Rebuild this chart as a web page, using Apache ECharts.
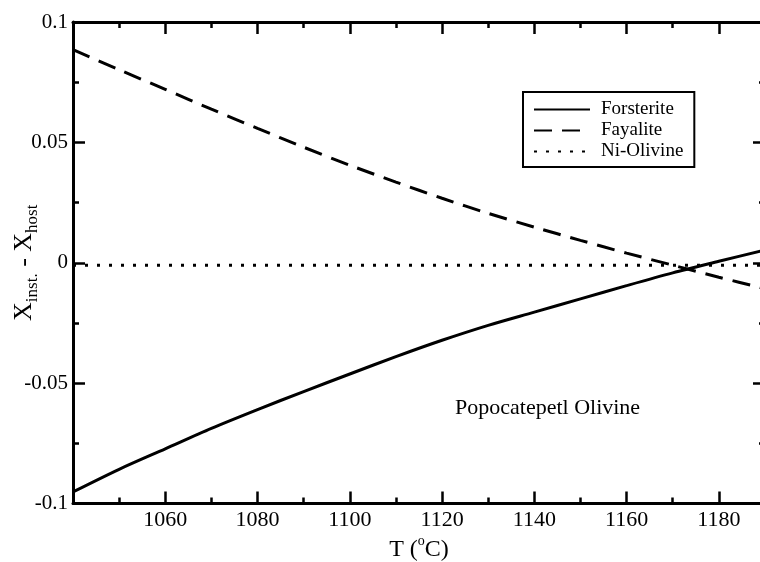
<!DOCTYPE html>
<html>
<head>
<meta charset="utf-8">
<script src="https://cdn.jsdelivr.net/npm/echarts@6/dist/echarts.min.js"></script>
<style>
html,body{margin:0;padding:0;background:#fff;}
#chart{width:760px;height:562px;}
</style>
</head>
<body>
<div id="chart"></div>
<script>
// ---- data ----
var temps = [1040, 1050, 1060, 1070, 1080, 1090, 1100, 1110, 1120, 1130, 1140, 1150, 1160, 1170, 1180, 1190];
var forsterite = [-0.0952, -0.0858, -0.0773, -0.0688, -0.0610, -0.0535, -0.0462, -0.0390, -0.0322, -0.0260, -0.0205, -0.0150, -0.0095, -0.0042, 0.0006, 0.0053];
var fayalite = [0.0885, 0.0802, 0.0720, 0.0638, 0.0558, 0.0480, 0.0405, 0.0335, 0.0268, 0.0205, 0.0148, 0.0093, 0.0040, -0.0010, -0.0060, -0.0108];
var niOlivine = [-0.001, -0.001, -0.001, -0.001, -0.001, -0.001, -0.001, -0.001, -0.001, -0.001, -0.001, -0.001, -0.001, -0.001, -0.001, -0.001];
var seriesNames = ['Forsterite', 'Fayalite', 'Ni-Olivine'];
var yTickLabels = {'0.1': '0.1', '0.05': '0.05', '0': '0', '-0.05': '-0.05', '-0.1': '-0.1'};
var xMin = 1040, xMax = 1190, yMin = -0.1, yMax = 0.1;

function zip(xs, ys) { return xs.map(function (x, i) { return [x, ys[i]]; }); }

var FONT = 'Liberation Serif';
var chart = echarts.init(document.getElementById('chart'));

function xAxisDef(pos, interval, tickLen, showLabel, showLine) {
  return {
    type: 'value', position: pos, min: xMin, max: xMax, interval: interval,
    axisLine: { show: showLine, onZero: false, lineStyle: { color: '#000', width: 3 } },
    axisTick: { show: true, inside: true, length: tickLen, lineStyle: { color: '#000', width: 2.5 } },
    axisLabel: {
      show: showLabel, color: '#000', fontFamily: FONT, fontSize: 22, margin: 6,
      formatter: function (v) { return (v === xMin || v === xMax) ? '' : String(v); }
    },
    splitLine: { show: false }
  };
}
function yAxisDef(pos, showLabel) {
  return {
    type: 'value', position: pos, min: yMin, max: yMax, interval: 0.05,
    axisLine: { show: true, onZero: false, lineStyle: { color: '#000', width: 3 } },
    axisTick: { show: true, inside: true, length: 12, lineStyle: { color: '#000', width: 2.5 } },
    minorTick: { show: true, splitNumber: 2, length: 6, lineStyle: { color: '#000', width: 2.5 } },
    axisLabel: {
      show: showLabel, color: '#000', fontFamily: FONT, fontSize: 21, margin: 5,
      formatter: function (v) { var k = String(+v.toFixed(3)); return yTickLabels[k] !== undefined ? yTickLabels[k] : k; }
    },
    splitLine: { show: false }
  };
}

var xAxes = [
  xAxisDef('bottom', 20, 12, true, true),
  xAxisDef('bottom', 10, 6, false, false),
  xAxisDef('top', 20, 12, false, true),
  xAxisDef('top', 10, 6, false, false)
];
xAxes[0].name = '{m|T (}{sup|o}{m|C)}';
xAxes[0].nameLocation = 'middle';
xAxes[0].nameGap = 31;
xAxes[0].nameMoveOverlap = false;
xAxes[0].nameTextStyle = {
  color: '#000', fontFamily: FONT,
  rich: {
    m: { fontFamily: FONT, fontSize: 24, color: '#000', lineHeight: 27, verticalAlign: 'bottom' },
    sup: { fontFamily: FONT, fontSize: 14, color: '#000', lineHeight: 14, verticalAlign: 'top' }
  }
};
var yAxes = [yAxisDef('left', true), yAxisDef('right', false)];
yAxes[0].name = '{m|X}{s|inst.}{m| - X}{s|host}';
yAxes[0].nameLocation = 'middle';
yAxes[0].nameGap = 36;
yAxes[0].nameRotate = 90;
yAxes[0].nameMoveOverlap = false;
yAxes[0].nameTextStyle = {
  color: '#000', fontFamily: FONT,
  rich: {
    m: { fontFamily: FONT, fontSize: 26, color: '#000', lineHeight: 26, verticalAlign: 'top' },
    s: { fontFamily: FONT, fontSize: 17, color: '#000', lineHeight: 17, padding: [13, 0, 0, 0], verticalAlign: 'top' }
  }
};

var option = {
  backgroundColor: '#fff',
  animation: false,
  grid: { left: 73, top: 22, width: 692, height: 481.5, containLabel: false, outerBoundsMode: 'none' },
  xAxis: xAxes,
  yAxis: yAxes,
  legend: {
    orient: 'vertical', left: 523, top: 92,
    data: seriesNames,
    itemWidth: 56, itemHeight: 14, itemGap: 2,
    padding: [8, 11, 6, 10],
    borderColor: '#000', borderWidth: 2, borderRadius: 0,
    backgroundColor: '#fff',
    itemStyle: { color: 'rgba(0,0,0,0)', borderWidth: 0, opacity: 0 },
    textStyle: { color: '#000', fontFamily: FONT, fontSize: 19, padding: [0, 0, 0, 6] }
  },
  title: {
    text: 'Popocatepetl Olivine', left: 455, top: 397, padding: 0,
    textStyle: { color: '#000', fontFamily: FONT, fontSize: 22, fontWeight: 'normal' }
  },
  series: [
    { name: seriesNames[0], type: 'line', data: zip(temps, forsterite), smooth: 0.3, showSymbol: false, symbol: 'none',
      lineStyle: { color: '#000', width: 3, type: 'solid' }, itemStyle: { color: '#000' } },
    { name: seriesNames[1], type: 'line', data: zip(temps, fayalite), smooth: 0.3, showSymbol: false, symbol: 'none',
      lineStyle: { color: '#000', width: 3, type: [18, 10] }, itemStyle: { color: '#000' } },
    { name: seriesNames[2], type: 'line', data: zip(temps, niOlivine), showSymbol: false, symbol: 'none',
      lineStyle: { color: '#000', width: 3, type: [3, 9] }, itemStyle: { color: '#000' } }
  ]
};
chart.setOption(option);
</script>
</body>
</html>
